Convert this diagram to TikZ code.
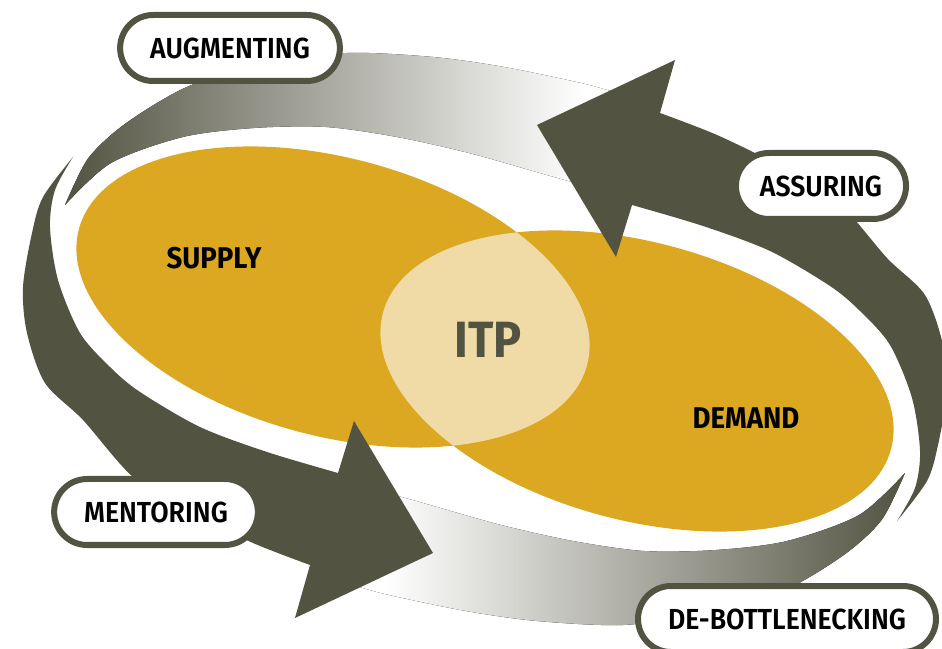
\documentclass[tikz,border=0pt]{standalone}
\usepackage{fontspec}
\setmainfont{Fira Sans}[FakeStretch=0.92]
\newfontfamily\tagfont{Fira Sans SemiBold}[FakeStretch=0.92]
\usetikzlibrary{arrows}
\definecolor{olivegrey}{RGB}{83,83,66}
\definecolor{gold}{RGB}{220,168,34}
\definecolor{palegold}{RGB}{240,219,166}
\pgfdeclarehorizontalshading{fadeout}{100bp}{color(0bp)=(olivegrey); color(25bp)=(olivegrey); color(71bp)=(white); color(100bp)=(white)}

\begin{document}
\begin{tikzpicture}[x=1pt,y=1pt]
  \tikzstyle{tag}=[draw=olivegrey,line width=6pt,fill=white,rounded corners=33pt,minimum height=66pt,inner xsep=30pt,font=\fontsize{29}{30}\selectfont\tagfont]
  \tikzstyle{field}=[font=\fontsize{30}{32}\selectfont\bfseries]
  \tikzstyle{oval}=[x radius=263pt,y radius=139pt]

  \useasboundingbox (0,0) rectangle (942,648);

  \coordinate (S) at (333,351);
  \coordinate (D) at (637,267);
  \coordinate (C) at (485,309);

  \fill[gold,rotate around={-15:(S)}] (S) ellipse [oval];
  \fill[gold,rotate around={-15:(D)}] (D) ellipse [oval];
  \begin{scope}
    \clip[rotate around={-15:(S)}] (S) ellipse [oval];
    \fill[palegold,rotate around={-15:(D)}] (D) ellipse [oval];
  \end{scope}

  % fading bands first, the solid arrows go over their ends
  \foreach \turn in {0,180}{
    \begin{scope}[shift={(C)},rotate=\turn]
      \fill[shading=fadeout,shading angle=\turn]
        plot[smooth] coordinates {(-420,134) (-398,179) (-368,209) (-328,236) (-288,256) (-215,275) (-138,286) (-52,282) (19,272) (100,255) (145,242)}
        -- plot[smooth] coordinates {(115,149) (55,166) (-16,186) (-88,202) (-159,212) (-231,211) (-302,202) (-374,176) (-420,134)} -- cycle;
    \end{scope}
  }
  \foreach \turn in {0,180}{
    \begin{scope}[shift={(C)},rotate=\turn]
      \fill[olivegrey]
        plot[smooth] coordinates {(-412,182) (-442,142) (-453,106) (-462,52) (-458,6) (-440,-44) (-402,-81) (-352,-138) (-295,-173) (-232,-204) (-175,-226)}
        -- (-190,-279) -- (-52,-214) -- (-131,-82) -- (-147,-134)
        -- plot[smooth] coordinates {(-147,-134) (-218,-113) (-285,-88) (-345,-53) (-375,-28) (-405,6) (-427,59) (-435,112) (-430,149) (-412,182)} -- cycle;
    \end{scope}
  }

  \node[field] (supply) at (214,390) {SUPPLY};
  \node[field] (demand) at (746,230) {DEMAND};
  \node[font=\fontsize{51}{52}\selectfont\bfseries,text=olivegrey] (itp) at (488,308) {ITP};

  \node[tag] (augmenting) at (230,600) {AUGMENTING};
  \node[tag,inner xsep=24pt] (assuring) at (821,462) {ASSURING};
  \node[tag] (mentoring) at (156,136) {MENTORING};
  \node[tag] (debottlenecking) at (787,29) {DE-BOTTLENECKING};
\end{tikzpicture}
\end{document}
